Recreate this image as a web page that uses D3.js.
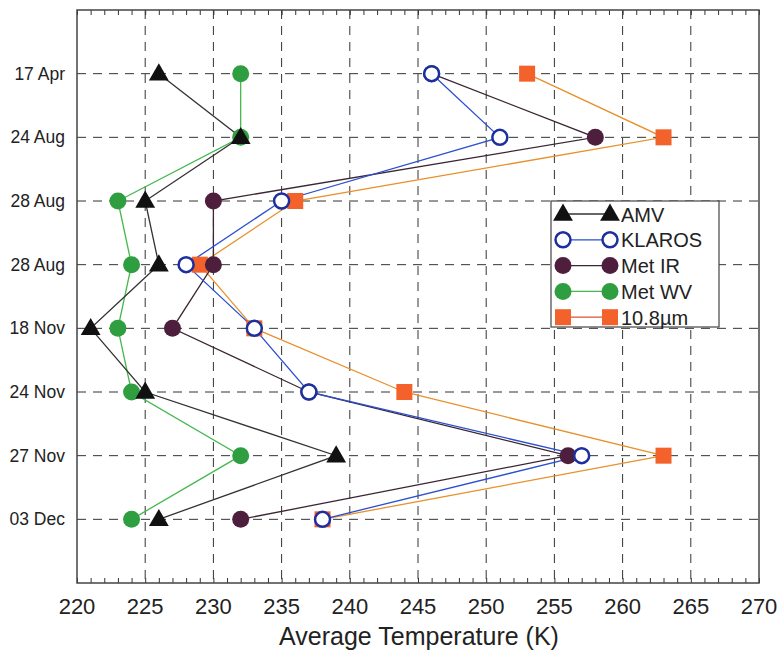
<!DOCTYPE html>
<html>
<head>
<meta charset="utf-8">
<script src="https://cdn.jsdelivr.net/npm/d3@7"></script>
<style>
  body { margin: 0; background: #fff; }
  svg { font-family: "Liberation Sans", Arial, sans-serif; }
</style>
</head>
<body>
<svg id="chart" width="784" height="657"></svg>
<script>
// dates on the vertical axis (top to bottom)
var dates = ["17 Apr", "24 Aug", "28 Aug", "28 Aug", "18 Nov", "24 Nov", "27 Nov", "03 Dec"];
var xTicks = [220, 225, 230, 235, 240, 245, 250, 255, 260, 265, 270];

// average temperature (K) per series
var amv    = [226, 232, 225, 226, 221, 225, 239, 226];
var klaros = [246, 251, 235, 228, 233, 237, 257, 238];
var metIR  = [246, 258, 230, 230, 227, 237, 256, 232];
var metWV  = [232, 232, 223, 224, 223, 224, 232, 224];
var ch108  = [253, 263, 236, 229, 233, 244, 263, 238];

var seriesNames = ["AMV", "KLAROS", "Met IR", "Met WV", "10.8\u00b5m"];

var plot = { left: 77, right: 759, top: 10, bottom: 583 };

var svg = d3.select("#chart");

var x = d3.scaleLinear().domain([220, 270]).range([plot.left, plot.right]);
var y = d3.scaleLinear().domain([-1, dates.length]).range([plot.top, plot.bottom]);

// gridlines
svg.append("g").selectAll("line")
    .data(xTicks.slice(1, -1))
    .enter().append("line")
    .attr("x1", d => x(d)).attr("x2", d => x(d))
    .attr("y1", plot.top).attr("y2", plot.bottom)
    .attr("stroke", "#333").attr("stroke-width", 1)
    .attr("stroke-dasharray", "9,7");

svg.append("g").selectAll("line")
    .data(dates)
    .enter().append("line")
    .attr("x1", plot.left).attr("x2", plot.right)
    .attr("y1", (d, i) => y(i)).attr("y2", (d, i) => y(i))
    .attr("stroke", "#333").attr("stroke-width", 1)
    .attr("stroke-dasharray", "9,7");

// minor ticks every 1 K, inward on top and bottom
var bottomAxis = svg.append("g")
    .attr("transform", `translate(0, ${plot.bottom})`)
    .call(d3.axisBottom(x).tickValues(d3.range(220, 271)).tickSize(-5).tickFormat(""));
var topAxis = svg.append("g")
    .attr("transform", `translate(0, ${plot.top})`)
    .call(d3.axisTop(x).tickValues(d3.range(220, 271)).tickSize(-5).tickFormat(""));
[bottomAxis, topAxis].forEach(a => {
    a.select(".domain").remove();
    a.selectAll("line").attr("stroke", "#333");
});

// frame
svg.append("rect")
    .attr("x", plot.left).attr("y", plot.top)
    .attr("width", plot.right - plot.left).attr("height", plot.bottom - plot.top)
    .attr("fill", "none").attr("stroke", "#444").attr("stroke-width", 1.5);

// tick labels
svg.append("g").selectAll("text")
    .data(xTicks)
    .enter().append("text")
    .attr("x", d => x(d)).attr("y", 614)
    .attr("text-anchor", "middle")
    .attr("font-size", 22).attr("fill", "#222")
    .text(d => d);

svg.append("g").selectAll("text")
    .data(dates)
    .enter().append("text")
    .attr("x", 65).attr("y", (d, i) => y(i) + 6)
    .attr("text-anchor", "end")
    .attr("font-size", 17.5).attr("fill", "#222")
    .text(d => d);

svg.append("text")
    .attr("x", (plot.left + plot.right) / 2 + 1).attr("y", 645)
    .attr("text-anchor", "middle")
    .attr("font-size", 25).attr("fill", "#222")
    .text("Average Temperature (K)");

// series
var series = [
    { name: seriesNames[0], values: amv,    line: "#333333", shape: "tri",  fill: "#111", stroke: "none" },
    { name: seriesNames[1], values: klaros, line: "#2a4fd0", shape: "open", fill: "#fff", stroke: "#1c2f9e" },
    { name: seriesNames[2], values: metIR,  line: "#3b2534", shape: "dot",  fill: "#4d1f3c", stroke: "none" },
    { name: seriesNames[3], values: metWV,  line: "#45b84f", shape: "dot",  fill: "#2f9e40", stroke: "none" },
    { name: seriesNames[4], values: ch108,  line: "#e8902a", shape: "sq",   fill: "#f2622a", stroke: "none" }
];

var lineGen = d3.line().x(d => x(d[0])).y(d => y(d[1]));

function drawMarker(g, s, cx, cy) {
    if (s.shape === "tri") {
        g.append("path")
            .attr("d", d3.symbol().type(d3.symbolTriangle).size(170)())
            .attr("transform", `translate(${cx},${cy + 1})`)
            .attr("fill", s.fill);
    } else if (s.shape === "sq") {
        g.append("rect")
            .attr("x", cx - 8).attr("y", cy - 8)
            .attr("width", 16).attr("height", 16)
            .attr("fill", s.fill);
    } else if (s.shape === "open") {
        g.append("circle")
            .attr("cx", cx).attr("cy", cy).attr("r", 7.5)
            .attr("fill", s.fill).attr("stroke", s.stroke).attr("stroke-width", 2.5);
    } else {
        g.append("circle")
            .attr("cx", cx).attr("cy", cy).attr("r", 8.5)
            .attr("fill", s.fill);
    }
}

// draw lines first (reverse order so AMV sits on top), then markers
var drawOrder = [4, 3, 2, 1, 0];
drawOrder.forEach(k => {
    var s = series[k];
    svg.append("path")
        .datum(s.values.map((v, i) => [v, i]))
        .attr("d", lineGen)
        .attr("fill", "none")
        .attr("stroke", s.line).attr("stroke-width", 1.3);
});
drawOrder.forEach(k => {
    var s = series[k];
    var g = svg.append("g");
    s.values.forEach((v, i) => drawMarker(g, s, x(v), y(i)));
});

// legend
var legend = svg.append("g");
legend.append("rect")
    .attr("x", 551).attr("y", 201).attr("width", 168).attr("height", 126)
    .attr("fill", "#fff").attr("stroke", "#444").attr("stroke-width", 1.2);

series.forEach((s, i) => {
    var ly = 214 + i * 25.8;
    legend.append("line")
        .attr("x1", 563).attr("x2", 610)
        .attr("y1", ly).attr("y2", ly)
        .attr("stroke", s.shape === "sq" ? "#e0503a" : s.line).attr("stroke-width", 1.3);
    drawMarker(legend, s, 563, ly);
    drawMarker(legend, s, 610, ly);
    legend.append("text")
        .attr("x", 621).attr("y", ly + 7.5)
        .attr("font-size", 20).attr("fill", "#222")
        .text(s.name);
});
</script>
</body>
</html>
